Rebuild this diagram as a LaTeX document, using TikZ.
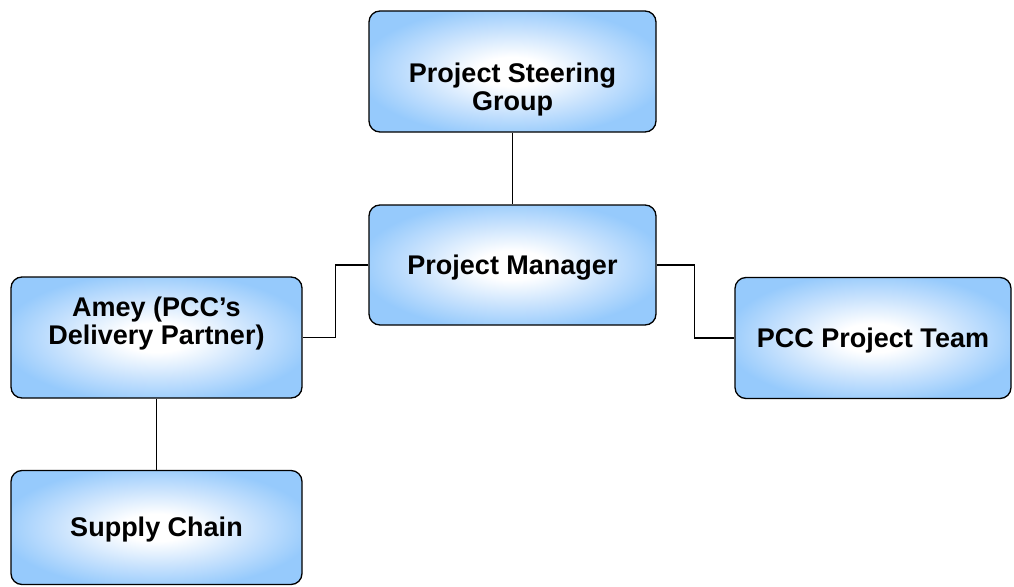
\documentclass[tikz,border=0pt]{standalone}
\usepackage{fontspec}
\setmainfont{Liberation Sans}
\definecolor{boxblue}{RGB}{150,202,252}
\definecolor{midblue}{RGB}{200,226,253}
\pgfdeclareradialshading{boxglow}{\pgfpoint{0bp}{0bp}}{color(0bp)=(white); color(6bp)=(white); color(17bp)=(midblue); color(27bp)=(boxblue); color(50bp)=(boxblue)}
\newcommand{\orgtext}[2]{\raisebox{#1}[18.6pt][0pt]{\begin{tabular}[t]{@{}c@{}}#2\end{tabular}}}
\begin{document}
\begin{tikzpicture}[x=1pt,y=-1pt,
  orgbox/.style={draw=black, line width=1.3pt, rounded corners=11pt, shading=boxglow,
    inner sep=0pt, align=center, font=\bfseries\fontsize{27}{27.5}\selectfont},
  link/.style={draw=black, line width=1.4pt}]
\useasboundingbox (0,0) rectangle (1014,586);
\node[orgbox, minimum width=287pt, minimum height=121pt] (steer) at (512.5,71.5) {\orgtext{-1.9pt}{Project Steering\\Group}};
\node[orgbox, minimum width=287pt, minimum height=120pt] (pm) at (512.5,265) {\orgtext{0pt}{Project Manager}};
\node[orgbox, minimum width=291pt, minimum height=121pt] (amey) at (156.5,337.5) {\orgtext{30pt}{Amey (PCC’s\\Delivery Partner)}};
\node[orgbox, minimum width=276pt, minimum height=121pt] (pcc) at (873,338) {\orgtext{0pt}{PCC Project Team}};
\node[orgbox, minimum width=291pt, minimum height=114pt] (supply) at (156.5,527.5) {\orgtext{0pt}{Supply Chain}};
\draw[link] (steer.south) -- (pm.north);
\draw[link] (pm.west) -- ++(-33,0) |- (amey.east);
\draw[link] (pm.east) -- ++(38,0) |- (pcc.west);
\draw[link] (amey.south) -- (supply.north);
\end{tikzpicture}
\end{document}
